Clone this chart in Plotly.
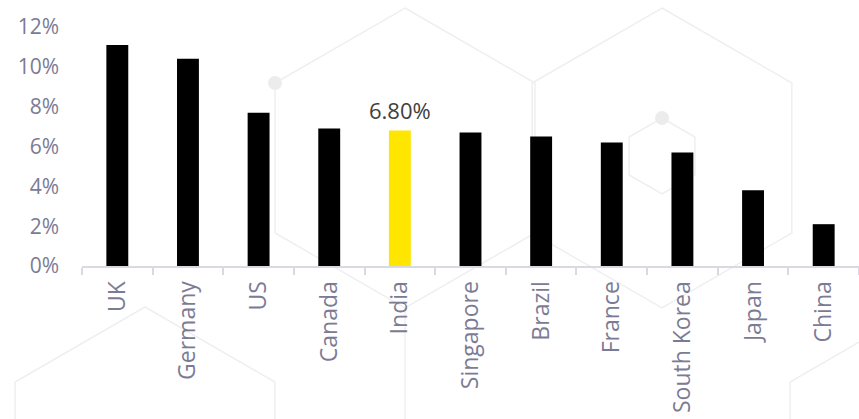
import plotly.graph_objects as go

countries = ["UK", "Germany", "US", "Canada", "India", "Singapore", "Brazil",
             "France", "South Korea", "Japan", "China"]
values = [11.1, 10.4, 7.7, 6.9, 6.8, 6.7, 6.5, 6.2, 5.7, 3.8, 2.1]
highlight = "India"
y_ticks = [0, 2, 4, 6, 8, 10, 12]
y_tick_labels = ["0%", "2%", "4%", "6%", "8%", "10%", "12%"]

W, H = 859, 419
ML, MR, MT, MB = 82, 0, 27, 153
FONT = "Open Sans"
LABEL_COLOR = "#7b7b95"

colors = ["#FFE600" if c == highlight else "#000000" for c in countries]

fig = go.Figure()
fig.add_trace(go.Bar(
    x=countries, y=values, marker=dict(color=colors, line=dict(width=0)),
    width=0.31, hoverinfo="x+y",
))
hi = countries.index(highlight)
fig.add_annotation(x=countries[hi], y=values[hi], text=f"{values[hi]:.2f}%",
                   showarrow=False, yanchor="bottom", yshift=4,
                   font=dict(family=FONT, size=22, color="#404040"))

# faint decorative hexagon outlines in the background (pixel geometry -> paper)
pw, ph = W - ML - MR, H - MT - MB
def to_paper(px, py):
    return (px - ML) / pw, (H - MB - py) / ph

deco = "#efefef"
hexes = [(405, 158, 150), (662, 158, 150), (662, 156, 38), (145, 457, 150),
         (920, 457, 150)]
shapes = []
for cx, cy, r in hexes:
    pts = [(cx, cy - r), (cx + 0.866 * r, cy - r / 2), (cx + 0.866 * r, cy + r / 2),
           (cx, cy + r), (cx - 0.866 * r, cy + r / 2), (cx - 0.866 * r, cy - r / 2)]
    pp = [to_paper(x, y) for x, y in pts]
    path = "M " + " L ".join(f"{x:.4f},{y:.4f}" for x, y in pp) + " Z"
    shapes.append(dict(type="path", xref="paper", yref="paper", path=path,
                       line=dict(color=deco, width=1.5), layer="below"))
vx0, vy0 = to_paper(405, 308)
vx1, vy1 = to_paper(405, 425)
shapes.append(dict(type="line", xref="paper", yref="paper", x0=vx0, y0=vy0,
                   x1=vx1, y1=vy1, line=dict(color=deco, width=1.5), layer="below"))
for dx, dy in [(275, 83), (662, 118)]:
    x0, y0 = to_paper(dx - 7, dy + 7)
    x1, y1 = to_paper(dx + 7, dy - 7)
    shapes.append(dict(type="circle", xref="paper", yref="paper", x0=x0, y0=y0,
                       x1=x1, y1=y1, fillcolor="#ececec", line=dict(width=0),
                       layer="below"))

fig.update_layout(
    width=W, height=H,
    margin=dict(l=ML, r=MR, t=MT, b=MB),
    paper_bgcolor="white", plot_bgcolor="rgba(0,0,0,0)",
    showlegend=False,
    font=dict(family=FONT, size=22, color=LABEL_COLOR),
    shapes=shapes,
)
fig.update_xaxes(
    showline=True, linecolor="#d9d9e3", linewidth=2,
    ticks="outside", tickson="boundaries", ticklen=7, tickcolor="#d9d9e3", tickwidth=2,
    tickangle=-90, tickfont=dict(family=FONT, size=23, color=LABEL_COLOR),
    showgrid=False, ticklabelstandoff=4,
)
fig.update_yaxes(
    range=[0, 12], tickvals=y_ticks, ticktext=y_tick_labels,
    showgrid=False, zeroline=False, showline=False, ticks="",
    tickfont=dict(family=FONT, size=21, color=LABEL_COLOR),
    ticklabelstandoff=22,
)
fig.write_html("out.html")
